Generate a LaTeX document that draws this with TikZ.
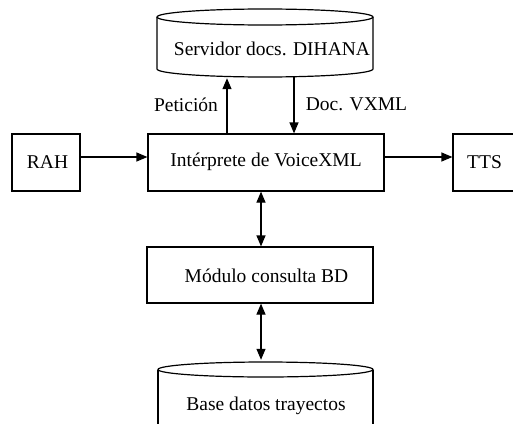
\documentclass[tikz,border=0pt]{standalone}
\usepackage{fontspec}
\setmainfont{Liberation Serif}
\usetikzlibrary{arrows.meta,calc}
\tikzset{
  boxnode/.style={draw, line width=1.2pt, inner sep=0pt},
  ghost/.style={inner sep=0pt},
  txt/.style={inner sep=0pt, font=\fontsize{19.5}{23}\selectfont},
  arr/.style={line width=1.2pt, -{Triangle[length=11pt,width=9pt]}},
  darr/.style={line width=1.2pt, {Triangle[length=11pt,width=9pt]}-{Triangle[length=11pt,width=9pt]}},
  cyl/.style={line width=1.2pt}
}
\begin{document}
\begin{tikzpicture}[x=1pt,y=-1pt]
\useasboundingbox (0,0) rectangle (513,423);
\clip (0,0) rectangle (513,423);
% boxes
\node[boxnode, minimum width=68pt, minimum height=57pt] (rah) at (46,162.5) {};
\node[boxnode, minimum width=236pt, minimum height=57pt] (interp) at (266,162.5) {};
\node[boxnode, minimum width=68pt, minimum height=57pt] (tts) at (487,162.5) {};
\node[boxnode, minimum width=226pt, minimum height=56pt] (mod) at (260,275) {};
% cylinders (invisible nodes for anchoring)
\node[ghost, minimum width=216pt, minimum height=68pt] (srv) at (265,43) {};
\node[ghost, minimum width=215pt, minimum height=80pt] (db) at (265.5,402) {};
\draw[cyl] (157,17) -- (157,69) arc[start angle=180, end angle=360, x radius=108pt, y radius=8pt] -- (373,17);
\draw[cyl] (265,17) ellipse [x radius=108pt, y radius=8pt];
\draw[cyl] (158,369.5) -- (158,440);
\draw[cyl] (373,369.5) -- (373,440);
\draw[cyl] (265.5,369.5) ellipse [x radius=107.5pt, y radius=7.5pt];
% texts
\node[txt] (t1) at (272,48.5) {Servidor docs. DIHANA};
\node[txt] (t2) at (47.5,162) {RAH};
\node[txt] (t3) at (266,162) {Intérprete de VoiceXML};
\node[txt] (t4) at (484.5,162) {TTS};
\node[txt] (t5) at (266.5,275.5) {Módulo consulta BD};
\node[txt] (t6) at (266,405.5) {Base datos trayectos};
\node[txt] (t7) at (186,104.5) {Petición};
\node[txt] (t8) at (356.5,104.5) {Doc. VXML};
% connectors
\coordinate (hy) at (0,157);
\coordinate (px) at (227,0);
\coordinate (dx) at (294,0);
\coordinate (vx) at (261,0);
\draw[arr] (rah.east |- hy) -- (interp.west |- hy);
\draw[arr] (interp.east |- hy) -- (tts.west |- hy);
\draw[arr] (interp.north -| px) -- ($(srv.south -| px)+(0,1)$);
\draw[arr] (srv.south -| dx) -- (interp.north -| dx);
\draw[darr] (interp.south -| vx) -- (mod.north -| vx);
\draw[darr] (mod.south -| vx) -- ($(db.north -| vx)+(0,-2)$);
\end{tikzpicture}
\end{document}
